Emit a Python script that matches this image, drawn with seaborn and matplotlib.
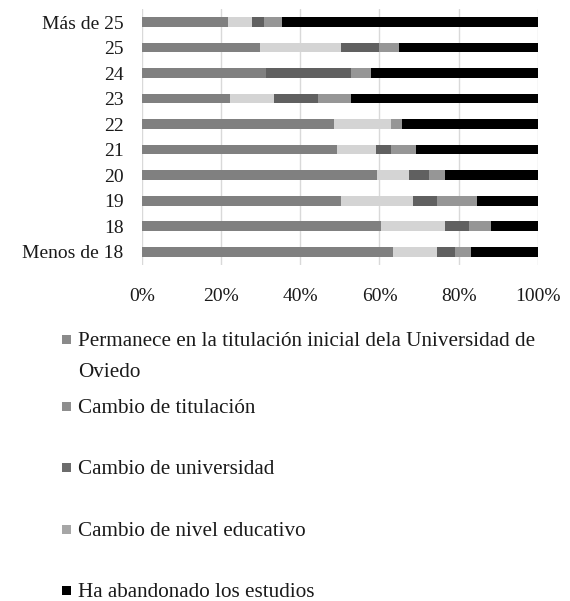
import matplotlib
matplotlib.use("Agg")
import matplotlib.pyplot as plt
import seaborn as sns
import numpy as np
import pandas as pd
from matplotlib.patches import Rectangle

categories = ["Más de 25", "25", "24", "23", "22", "21", "20", "19", "18", "Menos de 18"]
permanece = [21.8, 29.8, 31.4, 22.3, 48.6, 49.3, 59.4, 50.2, 60.3, 63.4]
cambio_titulacion = [6.1, 20.4, 0.0, 11.2, 14.2, 9.9, 8.0, 18.2, 16.2, 11.0]
cambio_universidad = [3.0, 9.7, 21.3, 11.1, 0.0, 3.6, 5.1, 6.0, 6.1, 4.7]
cambio_nivel = [4.5, 4.9, 5.1, 8.1, 3.0, 6.5, 4.0, 10.2, 5.5, 3.9]
abandonado = [64.6, 35.2, 42.2, 47.3, 34.2, 30.7, 23.5, 15.4, 11.9, 17.0]

series_names = [
    "Permanece en la titulación inicial dela Universidad de\nOviedo",
    "Cambio de titulación",
    "Cambio de universidad",
    "Cambio de nivel educativo",
    "Ha abandonado los estudios",
]
series_values = [permanece, cambio_titulacion, cambio_universidad, cambio_nivel, abandonado]
colors = ["#808080", "#d4d4d4", "#606060", "#969696", "#000000"]
legend_swatch_colors = ["#8a8a8a", "#8e8e8e", "#6c6c6c", "#a6a6a6", "#000000"]
xticks = [0, 20, 40, 60, 80, 100]
xtick_labels = ["0%", "20%", "40%", "60%", "80%", "100%"]

sns.set_theme(style="white")
plt.rcParams["font.family"] = ["Liberation Serif", "DejaVu Serif"]

W, H = 570, 601
fig = plt.figure(figsize=(W / 100, H / 100), dpi=100)
ax = fig.add_axes([141.7 / W, 1 - 264.5 / H, (538 - 141.7) / W, (264.5 - 9.25) / H])

vals = np.array(series_values)
cum = np.cumsum(vals, axis=0)
for i in range(len(series_values) - 1, -1, -1):
    df = pd.DataFrame({"cat": categories, "val": cum[i]})
    sns.barplot(data=df, x="val", y="cat", orient="h", color=colors[i],
                width=0.38, saturation=1, ax=ax, zorder=3)
    for p in ax.patches[-len(categories):]:
        p.set_linewidth(0)

ax.set_xlim(0, 100)
ax.set_ylim(9.5, -0.5)
ax.set_xticks(xticks)
ax.set_xticklabels(xtick_labels)
ax.set_xlabel("")
ax.set_ylabel("")
ax.grid(axis="x", color="#d9d9d9", linewidth=1, zorder=0)
ax.grid(axis="y", visible=False)
for s in ax.spines.values():
    s.set_visible(False)
ax.tick_params(axis="x", length=0, pad=17, labelsize=14, labelcolor="#1a1a1a")
ax.tick_params(axis="y", length=0, pad=13, labelsize=14, labelcolor="#1a1a1a")

# legend (manual, matching reference layout)
marker_y = [339, 406, 467, 529, 590]
for name, c, yy in zip(series_names, legend_swatch_colors, marker_y):
    fig.patches.append(Rectangle((62 / W, 1 - (yy + 4.5) / H), 9 / W, 9 / H,
                                 transform=fig.transFigure, color=c, linewidth=0))
    lines = name.split("\n")
    for k, ln in enumerate(lines):
        fig.text(78 / W, 1 - (yy + k * 31) / H, ln, fontsize=15.2, color="#1a1a1a",
                 va="center_baseline", ha="left")

fig.savefig("out.png", dpi=100)
